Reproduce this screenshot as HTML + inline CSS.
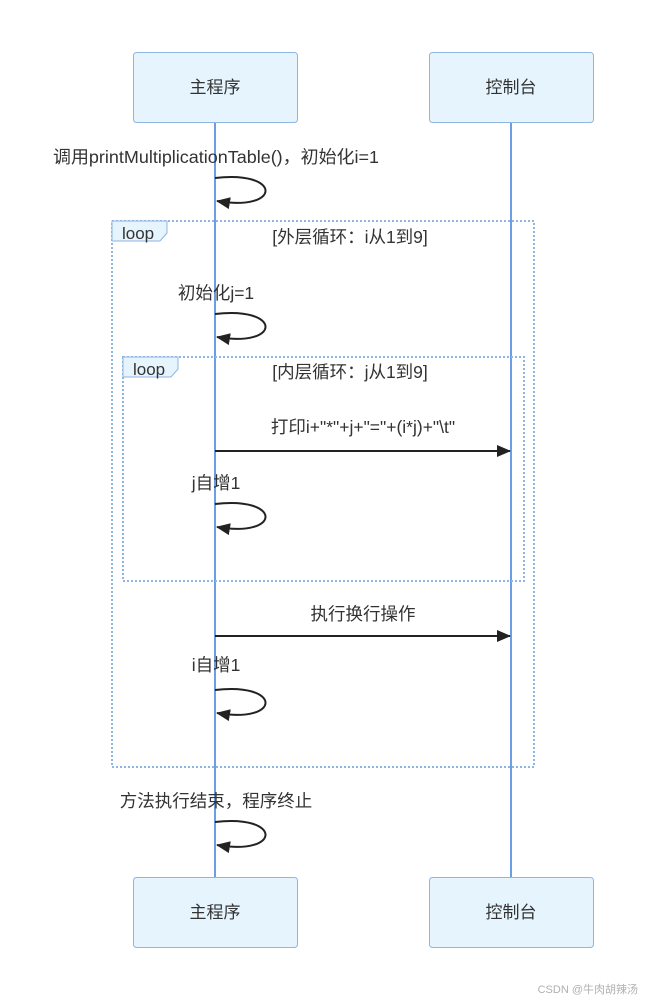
<!DOCTYPE html>
<html><head><meta charset="utf-8"><style>
html,body{margin:0;padding:0;background:#fff;width:645px;height:1000px;overflow:hidden}
text{font-family:"Liberation Sans","Noto Sans CJK SC",sans-serif;fill:#333}
</style></head><body>
<svg width="645" height="1000" viewBox="0 0 645 1000" xmlns="http://www.w3.org/2000/svg">
<defs><marker id="ah" markerWidth="14" markerHeight="12" refX="13" refY="6" orient="auto" markerUnits="userSpaceOnUse"><path d="M0,0 L14,6 L0,12 z" fill="#222"/></marker></defs>
<line x1="215" y1="123" x2="215" y2="877" stroke="#6a9fe6" stroke-width="2"/>
<line x1="511" y1="123" x2="511" y2="877" stroke="#6a9fe6" stroke-width="2"/>
<g fill="#e6f4fd" stroke="#8fb5e3" stroke-width="1">
<rect x="133.5" y="52.5" width="164" height="70" rx="3"/>
<rect x="429.5" y="52.5" width="164" height="70" rx="3"/>
<rect x="133.5" y="877.5" width="164" height="70" rx="3"/>
<rect x="429.5" y="877.5" width="164" height="70" rx="3"/>
</g>
<g font-size="17" text-anchor="middle">
<text x="215" y="93">主程序</text><text x="511" y="93">控制台</text>
<text x="215" y="918">主程序</text><text x="511" y="918">控制台</text>
</g>
<g fill="none" stroke="#8fb5e3" stroke-width="2" stroke-dasharray="2,2">
<rect x="112" y="221" width="422" height="546"/>
<rect x="123" y="357" width="401" height="224"/>
</g>
<g fill="#e6f4fd" stroke="#8fb5e3" stroke-width="1">
<path d="M112,221 L167,221 L167,233 L160,241 L112,241 z"/>
<path d="M123,357 L178,357 L178,369 L171,377 L123,377 z"/>
</g>
<g font-size="17">
<text x="122" y="239">loop</text><text x="133" y="375">loop</text>
</g>
<g font-size="17.5" text-anchor="middle">
<text x="350" y="243">[外层循环：i从1到9]</text>
<text x="350" y="378">[内层循环：j从1到9]</text>
<text x="216" y="163" textLength="326" lengthAdjust="spacingAndGlyphs">调用printMultiplicationTable()，初始化i=1</text>
<text x="216" y="299">初始化j=1</text>
<text x="363" y="433">打印i+"*"+j+"="+(i*j)+"\t"</text>
<text x="216" y="489">j自增1</text>
<text x="363" y="620">执行换行操作</text>
<text x="216" y="671">i自增1</text>
<text x="216" y="807">方法执行结束，程序终止</text>
</g>
<g fill="none" stroke="#222" stroke-width="2">
<path d="M215,178 C282,170 282,212 217,201" marker-end="url(#ah)"/>
<path d="M215,314 C282,306 282,348 217,337" marker-end="url(#ah)"/>
<path d="M215,504 C282,496 282,538 217,527" marker-end="url(#ah)"/>
<path d="M215,690 C282,682 282,724 217,713" marker-end="url(#ah)"/>
<path d="M215,822 C282,814 282,856 217,845" marker-end="url(#ah)"/>
<line x1="215" y1="451" x2="510" y2="451" marker-end="url(#ah)"/>
<line x1="215" y1="636" x2="510" y2="636" marker-end="url(#ah)"/>
</g>
<text x="638" y="993" font-size="11" text-anchor="end" style="fill:#b0b0b0">CSDN @牛肉胡辣汤</text>
</svg>
</body></html>
